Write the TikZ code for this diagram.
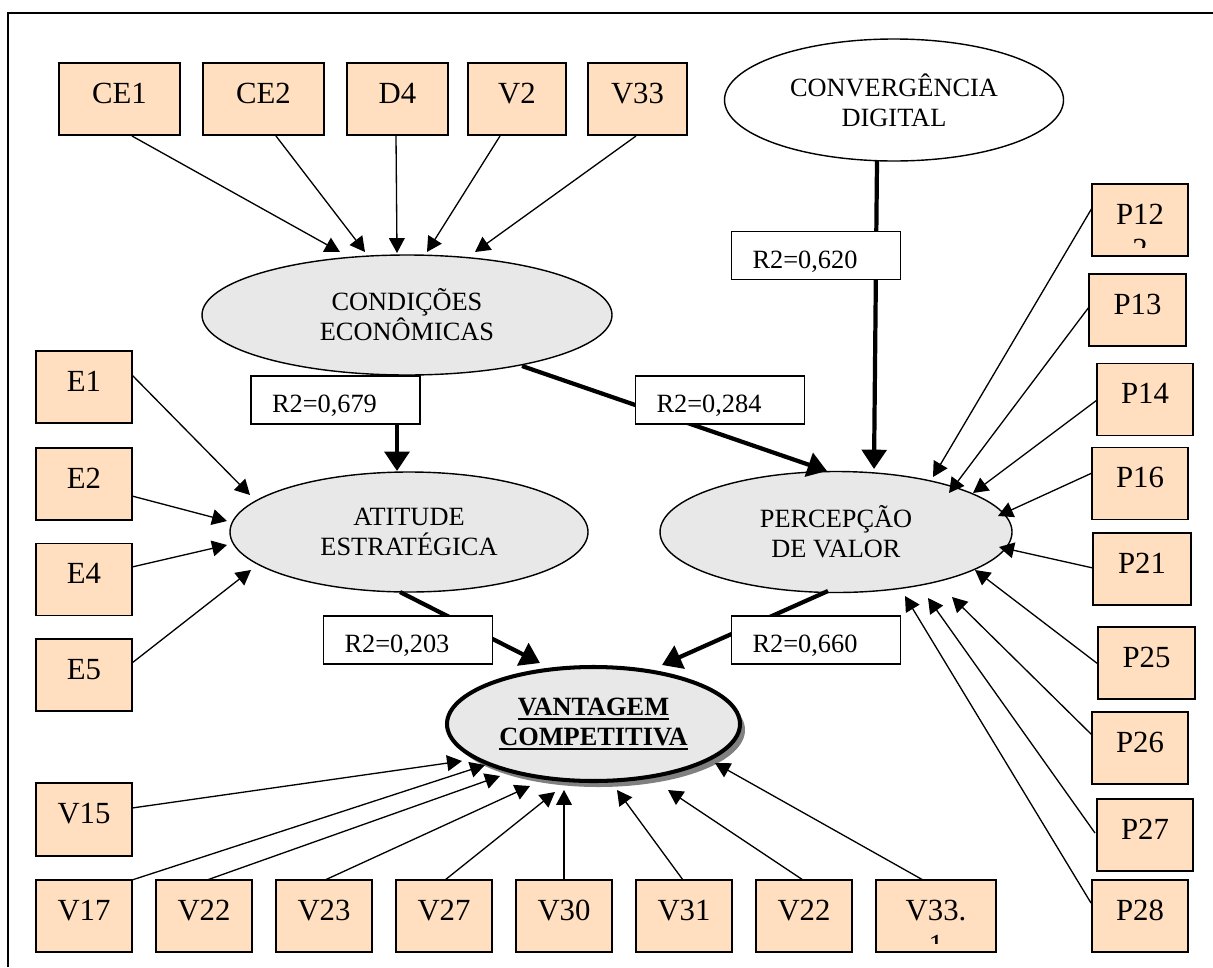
\documentclass[tikz,border=0pt]{standalone}
\usepackage{fontspec}
\setmainfont{Liberation Serif}
\usetikzlibrary{shapes.geometric,arrows.meta,calc,shadows}
\newlength{\pxu}\setlength{\pxu}{0.02cm}
\definecolor{peach}{HTML}{FFDFBF}
\definecolor{latgray}{HTML}{E8E8E8}
% bold underline with a heavier rule
\newcommand{\thickul}[1]{\vtop{\hbox{#1}\kern1.6pt\hrule height 1.1pt}}
\tikzset{
  ind/.style={draw=black, line width=1pt, fill=peach, minimum width=96\pxu,
    minimum height=72\pxu, inner sep=0pt, font=\fontsize{17.5}{20}\selectfont,
    text height=11.6pt, text depth=6.8pt},
  lat/.style={ellipse, draw=black, line width=0.8pt, fill=latgray, inner sep=0pt,
    font=\fontsize{15}{17}\selectfont, align=center},
  rtag/.style={draw=black, line width=1pt, fill=white, inner xsep=21\pxu,
    inner ysep=0pt, text width=127\pxu, minimum height=48\pxu, align=left,
    font=\fontsize{15}{17}\selectfont, text height=14.3pt, text depth=0pt},
  thinarr/.style={line width=0.75pt, -{Triangle[length=8.5pt, width=9pt]}},
  thickarr/.style={line width=2.4pt, -{Triangle[length=11pt, width=14pt]}},
  cutline/.style={font=\fontsize{17.5}{20}\selectfont, anchor=base, inner sep=0pt},
}
\begin{document}
\begin{tikzpicture}[x=0.02cm, y=-0.02cm]
\useasboundingbox (0,0) rectangle (1213,967);
\fill[white] (0,0) rectangle (1213,967);
% outer frame
\draw[line width=0.8pt] (8,967) -- (8,13) -- (1213,13);

% latent constructs
\node[lat, minimum width=410\pxu, minimum height=120\pxu] (cond) at (407,315) {CONDIÇÕES\\ECONÔMICAS};
\node[lat, minimum width=358\pxu, minimum height=120\pxu] (ati) at (409,532) {ATITUDE\\ESTRATÉGICA};
\node[lat, minimum width=352\pxu, minimum height=121\pxu] (perc) at (836,532) {PERCEPÇÃO\\DE VALOR};
\node[lat, fill=white, minimum width=339\pxu, minimum height=122\pxu] (conv) at (894,100) {CONVERGÊNCIA\\DIGITAL};
\node[lat, line width=2.3pt, minimum width=293\pxu, minimum height=114\pxu,
  font=\fontsize{15}{17}\selectfont\bfseries,
  drop shadow={shadow xshift=0.1cm, shadow yshift=-0.12cm, fill=black!50, opacity=1}]
  (vant) at (593.5,724) {\thickul{VANTAGEM}\\\thickul{COMPETITIVA}};

% indicators: economic conditions
\node[ind, minimum width=121\pxu] (ce1) at (119.5,99) {CE1};
\node[ind, minimum width=121\pxu] (ce2) at (263.5,99) {CE2};
\node[ind, minimum width=101\pxu] (d4) at (397.5,99) {D4};
\node[ind, minimum width=98\pxu] (v2) at (517,99) {V2};
\node[ind, minimum width=99\pxu] (v33) at (637.5,99) {V33};

% indicators: strategic attitude
\node[ind] (e1) at (84,387) {E1};
\node[ind] (e2) at (84,484) {E2};
\node[ind] (e4) at (84,579.5) {E4};
\node[ind] (e5) at (84,675) {E5};

% indicators: perceived value
\node[ind] (p12) at (1140,220) {P12};
\node[ind, minimum width=97\pxu] (p13) at (1137.5,310) {P13};
\node[ind] (p14) at (1145,399.5) {P14};
\node[ind] (p16) at (1140,483.5) {P16};
\node[ind, minimum width=98\pxu] (p21) at (1142,569) {P21};
\node[ind, minimum width=97\pxu] (p25) at (1146.5,663) {P25};
\node[ind] (p26) at (1140,748) {P26};
\node[ind] (p27) at (1145,835) {P27};
\node[ind] (p28) at (1140,916) {P28};

% indicators: competitive advantage
\node[ind, minimum height=73\pxu] (v15) at (84,819.5) {V15};
\node[ind] (v17) at (84,916) {V17};
\node[ind] (v22) at (204,916) {V22};
\node[ind] (v23) at (324,916) {V23};
\node[ind] (v27) at (444,916) {V27};
\node[ind] (v30) at (564,916) {V30};
\node[ind] (v31) at (684,916) {V31};
\node[ind] (v22b) at (804,916) {V22};
\node[ind, minimum width=120\pxu] (v331) at (936,916) {V33.};

% second text lines cut off by the box margins
\begin{scope}
  \clip ($(p12.north west)+(2,2)$) rectangle ($(p12.south east)+(-2,-9)$);
  \node[cutline] at ($(p12.north)+(0,76)$) {2};
\end{scope}
\begin{scope}
  \clip ($(v331.north west)+(2,2)$) rectangle ($(v331.south east)+(-2,-9)$);
  \node[cutline] at ($(v331.north)+(0,76)$) {1};
\end{scope}

% measurement arrows
\draw[thinarr] ($(ce1)+(12.5,37)$) -- ($(cond)+(-67,-63)$);
\draw[thinarr] ($(ce2)+(12.5,37)$) -- ($(cond)+(-42,-63)$);
\draw[thinarr] ($(d4)+(-1.5,37)$) -- ($(cond)+(-10,-62)$);
\draw[thinarr] ($(v2)+(-17,37)$) -- ($(cond)+(20,-63)$);
\draw[thinarr] ($(v33)+(-1.5,37)$) -- ($(cond)+(68,-63)$);

\draw[thinarr] ($(e1)+(48,-12)$) -- ($(ati)+(-159,-37)$);
\draw[thinarr] ($(e2)+(48,12)$) -- ($(ati)+(-182,-11)$);
\draw[thinarr] ($(e4)+(48,-12.5)$) -- ($(ati)+(-182,13)$);
\draw[thinarr] ($(e5)+(48,-12)$) -- ($(ati)+(-158,38)$);

\draw[thinarr] ($(p12)+(-48,-12)$) -- ($(perc)+(97,-55)$);
\draw[thinarr] ($(p13)+(-48.5,-3)$) -- ($(perc)+(113,-39)$);
\draw[thinarr] ($(p14)+(-48,0.5)$) -- ($(perc)+(137,-39)$);
\draw[thinarr] ($(p16)+(-48,-10.5)$) -- ($(perc)+(162,-16)$);
\draw[thinarr] ($(p21)+(-49,-1)$) -- ($(perc)+(163,15)$);
\draw[thinarr] ($(p25)+(-48.5,1)$) -- ($(perc)+(139,38)$);
\draw[thinarr] ($(p26)+(-48,-13)$) -- ($(perc)+(116,65)$);
\draw[thinarr] ($(p27)+(-50,-2)$) -- ($(perc)+(92,66)$);
\draw[thinarr] ($(p28)+(-49,-13)$) -- ($(perc)+(69,64)$);

\draw[thinarr] ($(v15)+(48,-11.5)$) -- ($(vant)+(-131.5,37)$);
\draw[thinarr] ($(v17)+(48,-36)$) -- ($(vant)+(-108.5,41)$);
\draw[thinarr] ($(v22)+(3,-36)$) -- ($(vant)+(-93.5,52)$);
\draw[thinarr] ($(v23)+(1,-36)$) -- ($(vant)+(-63.5,62)$);
\draw[thinarr] ($(v27)+(1,-36)$) -- ($(vant)+(-38.5,68)$);
\draw[thinarr] ($(v30)+(0,-36)$) -- ($(vant)+(-29.5,66)$);
\draw[thinarr] ($(v31)+(-1,-36)$) -- ($(vant)+(23.5,66)$);
\draw[thinarr] ($(v22b)+(-1,-36)$) -- ($(vant)+(74.5,66)$);
\draw[thinarr] ($(v331)+(-13,-36)$) -- ($(vant)+(121.5,39)$);

% structural paths
\draw[thickarr] ($(cond)+(-10,60)$) -- ($(ati)+(-12,-61)$);
\draw[thickarr] ($(cond)+(115,51)$) -- ($(perc)+(-9,-61)$);
\draw[thickarr] ($(conv)+(-17,61)$) -- ($(perc)+(38,-63)$);
\draw[thickarr] ($(ati)+(-9,60)$) -- ($(vant)+(-53.5,-61)$);
\draw[thickarr] ($(perc)+(-8,59)$) -- ($(vant)+(68.5,-59)$);

% R2 labels on the paths
\node[rtag] (r679) at (335.5,400) {R2=0,679};
\node[rtag] (r284) at (720,400) {R2=0,284};
\node[rtag] (r620) at (816,255.5) {R2=0,620};
\node[rtag] (r203) at (408,640) {R2=0,203};
\node[rtag] (r660) at (816,640) {R2=0,660};
\end{tikzpicture}
\end{document}
